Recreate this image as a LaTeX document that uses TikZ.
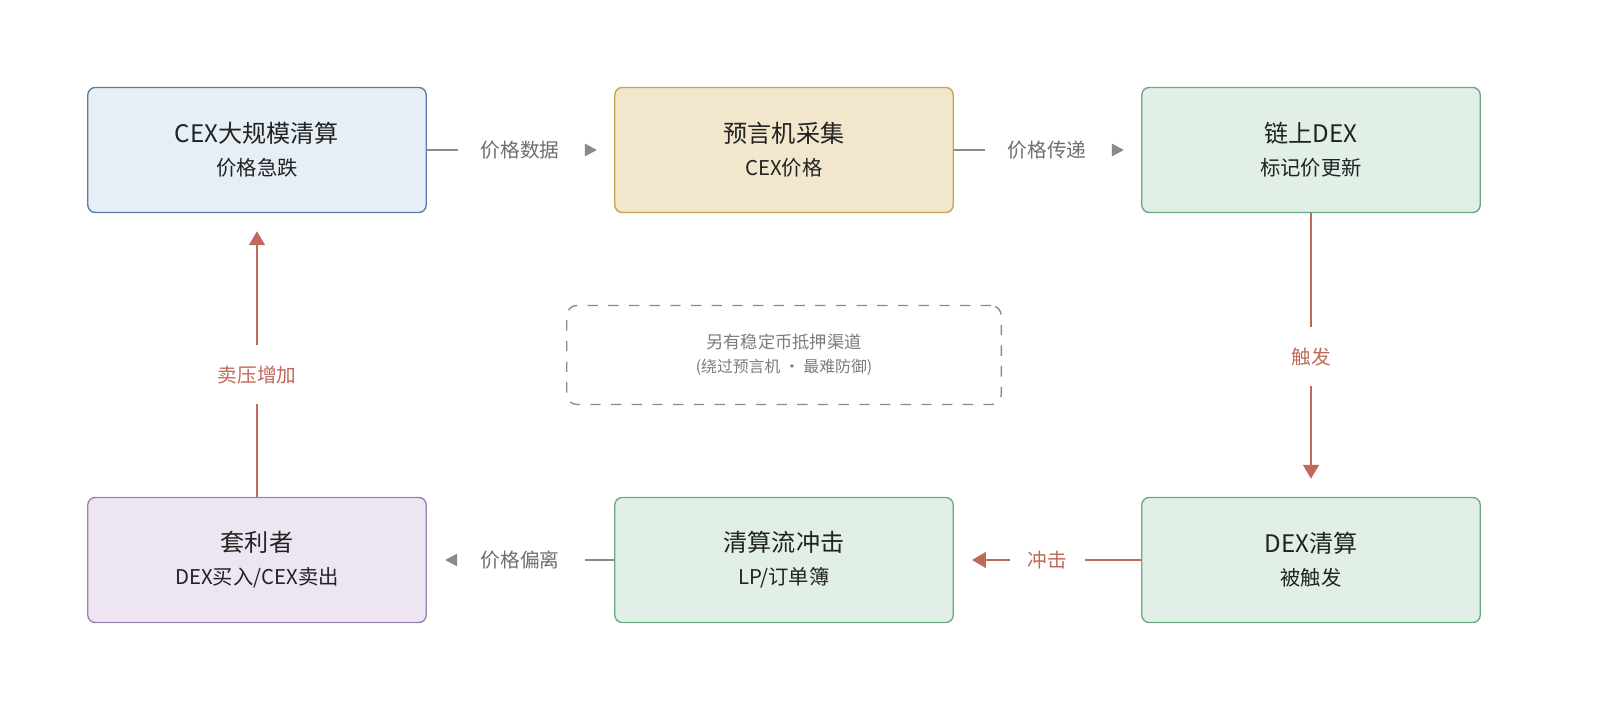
\documentclass[tikz,border=0pt]{standalone}
\usepackage{fontspec}
\setmainfont{Noto Sans CJK SC}
\usetikzlibrary{arrows.meta,calc}
\definecolor{bl}{HTML}{E6EEF6}\definecolor{blb}{HTML}{5C7DA8}
\definecolor{ye}{HTML}{F2E6CC}\definecolor{yeb}{HTML}{C9A24E}
\definecolor{gr}{HTML}{E1EFE6}\definecolor{grb}{HTML}{6BAA80}
\definecolor{pu}{HTML}{EDE6F2}\definecolor{pub}{HTML}{9A82B0}
\definecolor{rd}{HTML}{C0695A}\definecolor{gy}{HTML}{8A8A8A}
\definecolor{tx}{HTML}{222222}
\newcommand\subt{\fontsize{5.9pt}{7pt}\selectfont}
\begin{document}
\begin{tikzpicture}[x=0.0102cm,y=-0.0102cm,
 box/.style={draw,line width=0.4pt,rounded corners=2.2pt,minimum width=3.45cm,minimum height=1.275cm,align=center,text=tx,font=\fontsize{7pt}{10.5pt}\selectfont},
 glab/.style={text=gy!80!black,font=\fontsize{5.7pt}{7pt}\selectfont},
 rlab/.style={fill=white,text=rd,font=\fontsize{5.7pt}{7pt}\selectfont},
 gl/.style={draw=gy,line width=0.7pt},
 garr/.style={draw=gy,line width=0.7pt,-{Triangle[length=3.5pt,width=3.5pt]}},
 rarr/.style={draw=rd,line width=0.7pt,-{Triangle[length=4pt,width=4.5pt]}}]
\useasboundingbox[fill=white] (0,0) rectangle (1600,724);
\node[box,fill=bl,draw=blb] (a) at (257,150) {CEX大规模清算\\[-1pt]{\subt 价格急跌}};
\node[box,fill=ye,draw=yeb] (b) at (784,150) {预言机采集\\[-1pt]{\subt CEX价格}};
\node[box,fill=gr,draw=grb] (c) at (1311,150) {链上DEX\\[-1pt]{\subt 标记价更新}};
\node[box,fill=pu,draw=pub] (d) at (257,560) {套利者\\[-1pt]{\subt DEX买入/CEX卖出}};
\node[box,fill=gr,draw=grb] (e) at (784,560) {清算流冲击\\[-1pt]{\subt LP/订单簿}};
\node[box,fill=gr,draw=grb] (f) at (1311,560) {DEX清算\\[-1pt]{\subt 被触发}};
\node[draw=gy,dashed,rounded corners=3pt,minimum width=4.43cm,minimum height=1.01cm,align=center,text=gy!90!black,font=\fontsize{5pt}{7pt}\selectfont] (n) at (784,355) {另有稳定币抵押渠道\\{\fontsize{4.6pt}{6pt}\selectfont (绕过预言机 · 最难防御)}};
% top connectors
\node[glab] (l1) at (520,150) {价格数据};
\node[glab] (l2) at (1047,150) {价格传递};
\node[glab] (l3) at (520,560) {价格偏离};
\node[rlab,fill=none] (l4) at (1047,560) {冲击};
\coordinate (t1a) at (585,150); \coordinate (t1b) at (597,150);
\coordinate (t2a) at (1112,150); \coordinate (t2b) at (1124,150);
\coordinate (t3a) at (457,560); \coordinate (t3b) at (445,560);
\coordinate (t4a) at (1010,560); \coordinate (t4b) at (972,560);
\coordinate (g1) at (458,150); \coordinate (g2) at (985,150);
\coordinate (g3) at (585,560); \coordinate (g4) at (1085,560);
\draw[gl] (a.east) -- (g1);
\draw[garr] (t1a) -- (t1b);
\draw[gl] (b.east) -- (g2);
\draw[garr] (t2a) -- (t2b);
\draw[gl] (e.west) -- (g3);
\draw[garr] (t3a) -- (t3b);
\draw[draw=rd,line width=0.7pt] (f.west) -- (g4);
\draw[rarr] (t4a) -- (t4b);
\coordinate (cf) at ($(f.north)+(0,-18)$);
\coordinate (da) at ($(a.south)+(0,18)$);
\draw[rarr] (c.south) -- node[rlab,inner ysep=6pt,pos=0.54]{触发} (cf);
\draw[rarr] (d.north) -- node[rlab,inner ysep=6pt,pos=0.46]{卖压增加} (da);
\end{tikzpicture}
\end{document}
